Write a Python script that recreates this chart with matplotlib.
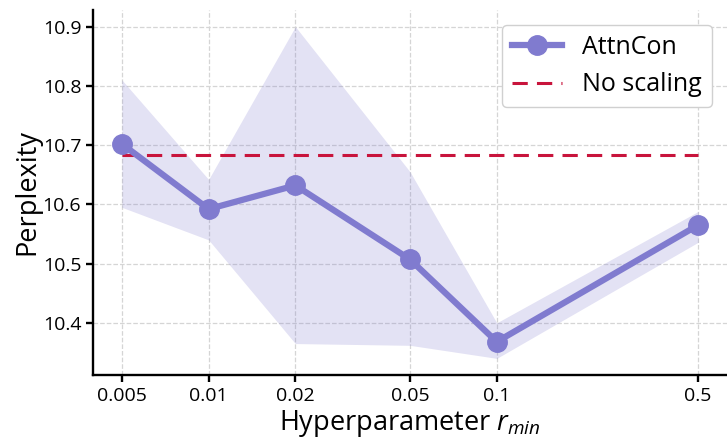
import matplotlib
matplotlib.use("Agg")
import matplotlib.pyplot as plt

plt.rcParams['font.family'] = ['Open Sans', 'DejaVu Sans']
plt.rcParams['mathtext.fontset'] = 'custom'
plt.rcParams['mathtext.rm'] = 'Open Sans'
plt.rcParams['mathtext.it'] = 'Open Sans:italic'

# r_min sweep results
r_min = [0.005, 0.01, 0.02, 0.05, 0.1, 0.5]
ppl_mean = [10.702, 10.592, 10.632, 10.507, 10.368, 10.565]
ppl_low = [10.595, 10.540, 10.365, 10.362, 10.340, 10.536]
ppl_high = [10.810, 10.642, 10.900, 10.655, 10.400, 10.588]
baseline = 10.683

line_color = '#807bcf'
base_color = '#c8143c'

fig = plt.figure(figsize=(7.27, 4.37), dpi=100)
ax = fig.add_axes([0.128, 0.142, 0.872, 0.835])

ax.fill_between(r_min, ppl_low, ppl_high, color=line_color, alpha=0.22, linewidth=0)
ax.plot(r_min, ppl_mean, color=line_color, linewidth=4.5, marker='o', markersize=14,
        label='AttnCon', zorder=3)
ax.plot([r_min[0], r_min[-1]], [baseline, baseline], color=base_color, linewidth=2.2,
        linestyle=(0, (5, 3)), label='No scaling', zorder=2)

ax.set_xscale('log')
ax.set_xticks(r_min)
ax.set_xticklabels(['0.005', '0.01', '0.02', '0.05', '0.1', '0.5'])
ax.minorticks_off()
ax.set_yticks([10.4, 10.5, 10.6, 10.7, 10.8, 10.9])

ax.grid(True, linestyle='--', color='#d5d5d5', linewidth=0.9)
ax.set_axisbelow(True)
for side in ['top', 'right']:
    ax.spines[side].set_visible(False)
for side in ['left', 'bottom']:
    ax.spines[side].set_linewidth(1.7)
ax.tick_params(labelsize=14, width=1.7, length=5)

ax.set_xlabel(r'Hyperparameter $r_{min}$', fontsize=19.5, labelpad=2)
ax.set_ylabel('Perplexity', fontsize=19.5, labelpad=1)

ax.legend(loc='upper right', fontsize=18, fancybox=True, framealpha=1,
          edgecolor='#d0d0d0', handlelength=2.0, borderaxespad=0,
          bbox_to_anchor=(0.979, 0.943), bbox_transform=fig.transFigure)

fig.savefig('out.png', dpi=100)
